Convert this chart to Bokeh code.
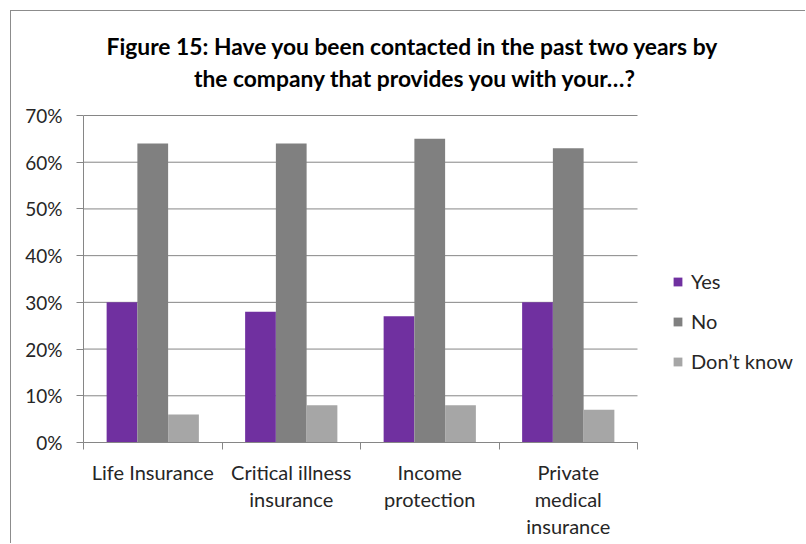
from bokeh.plotting import figure
from bokeh.models import (Range1d, LinearAxis, FixedTicker, NumeralTickFormatter,
                          Legend, LegendItem, Label, ColumnDataSource)
from bokeh.transform import dodge
from bokeh.embed import file_html
from bokeh.resources import INLINE

categories = ["Life Insurance", "Critical illness\ninsurance", "Income\nprotection",
              "Private\nmedical\ninsurance"]
yes = [0.30, 0.28, 0.27, 0.30]
no = [0.64, 0.64, 0.65, 0.63]
dont_know = [0.06, 0.08, 0.08, 0.07]
series_names = ["Yes", "No", "Don\u2019t know"]
y_ticks = [0, 0.1, 0.2, 0.3, 0.4, 0.5, 0.6, 0.7]
title_lines = ["Figure 15: Have you been contacted in the past two years by",
               "the company that provides you with your\u2026?"]

colors = ["#7030A0", "#808080", "#A6A6A6"]
FONT = "Lato"
AX = "#868686"

# layout (pixels): figure 795x533; plot area 554x327 starting at (72, 104) in the figure
FIG_W, FIG_H = 795, 533
LEFT, BOTTOM = 72, 102
PLOT_W, PLOT_H = 554, 327
FRAME_W, FRAME_H = FIG_W - LEFT, FIG_H - BOTTOM

n = len(categories)
y_max = y_ticks[-1]
centers = [i + 0.5 for i in range(n)]
src = ColumnDataSource(dict(x=centers, yes=yes, no=no, dk=dont_know))

p = figure(width=FIG_W, height=FIG_H,
           x_range=Range1d(0, n * FRAME_W / PLOT_W), y_range=Range1d(0, y_max * FRAME_H / PLOT_H),
           output_backend="svg", toolbar_location=None,
           min_border_left=LEFT, min_border_right=0, min_border_top=0, min_border_bottom=BOTTOM)
p.styles = {"margin-left": "10px", "margin-top": "10px",
            "border-left": "1px solid #8c8c8c", "border-top": "1px solid #8c8c8c"}
p.outline_line_color = None
p.background_fill_color = "white"
p.border_fill_color = "white"
p.xgrid.grid_line_color = None
p.ygrid.grid_line_color = None

# horizontal gridlines across the plot area only
p.segment(x0=0, x1=n, y0=y_ticks, y1=y_ticks, line_color=AX, line_width=1)

w = 0.222
renderers = []
for col, off, c in zip(["yes", "no", "dk"], [-w, 0, w], colors):
    r = p.vbar(x=dodge("x", off), top=col, width=w, source=src,
               fill_color=c, line_color=None)
    renderers.append(r)

# title lines (canvas pixel units)
for txt, tx, ty in zip(title_lines, [400, 403], [33, 65]):
    p.add_layout(Label(x=tx, y=ty, x_units="canvas", y_units="canvas", text=txt,
                       text_align="center", text_baseline="middle", text_font=FONT,
                       text_font_size="22.8px", text_font_style="bold", text_color="#000000"))

# y axis
p.yaxis.ticker = FixedTicker(ticks=y_ticks)
p.yaxis.bounds = (0, y_max)
p.yaxis.formatter = NumeralTickFormatter(format="0%")
p.yaxis.axis_line_color = AX
p.yaxis.major_tick_line_color = AX
p.yaxis.major_tick_out = 7
p.yaxis.major_tick_in = 0
p.yaxis.minor_tick_line_color = None
p.yaxis.major_label_text_font = FONT
p.yaxis.major_label_text_font_size = "19px"
p.yaxis.major_label_text_color = "#262626"
p.yaxis.major_label_standoff = 14

# x axis: boundary ticks (no labels) + category label axis (no line/ticks)
edges = list(range(n + 1))
tick_axis = p.xaxis[0]
tick_axis.ticker = FixedTicker(ticks=edges)
tick_axis.bounds = (0, n)
tick_axis.axis_line_color = AX
tick_axis.major_tick_line_color = AX
tick_axis.major_tick_out = 7
tick_axis.major_tick_in = 0
tick_axis.minor_tick_line_color = None
tick_axis.major_label_overrides = {e: "" for e in edges}
tick_axis.major_label_text_font_size = "1px"
tick_axis.major_label_text_alpha = 0
tick_axis.major_label_standoff = 0

cat_axis = LinearAxis(ticker=FixedTicker(ticks=centers),
                      major_label_overrides={c: lab for c, lab in zip(centers, categories)},
                      axis_line_color=None, major_tick_line_color=None, minor_tick_line_color=None,
                      major_label_text_font=FONT, major_label_text_font_size="20px",
                      major_label_text_color="#262626", major_label_text_line_height=1.13,
                      major_label_standoff=4)
p.add_layout(cat_axis, "below")

legend = Legend(items=[LegendItem(label=s, renderers=[r]) for s, r in zip(series_names, renderers)],
                location=(589, 69), label_text_font=FONT, label_text_font_size="20px",
                label_text_color="#262626", glyph_width=11, glyph_height=11,
                label_standoff=8, spacing=16, padding=0, margin=0,
                background_fill_alpha=0, border_line_color=None)
p.add_layout(legend, "center")

open("out.html", "w").write(file_html(p, INLINE))
